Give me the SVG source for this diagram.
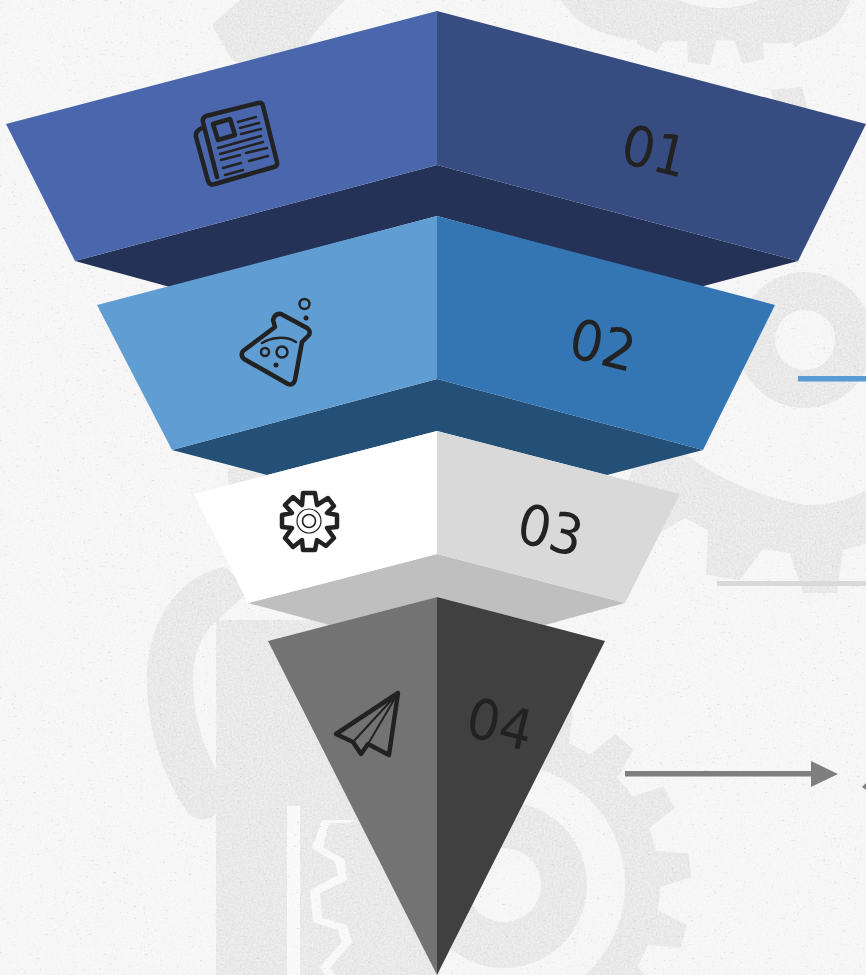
<svg xmlns="http://www.w3.org/2000/svg" width="866" height="975" viewBox="0 0 866 975">
<style>
.bg{fill:#e4e4e4}
.ic{fill:none;stroke:#222;stroke-width:4.500;stroke-linejoin:round;stroke-linecap:round}
.num{font-family:"DejaVu Sans",sans-serif;font-style:italic;font-size:50px;fill:#222}
.dot{fill:#222;stroke:none}
</style>
<defs>
<filter id="grain" x="0" y="0" width="100%" height="100%">
<feTurbulence type="fractalNoise" baseFrequency="0.5" numOctaves="3" seed="4"/>
<feColorMatrix type="matrix" values="0 0 0 0 1  0 0 0 0 1  0 0 0 0 1  1.6 0 0 0 -0.5"/>
</filter>
<filter id="grain2" x="0" y="0" width="100%" height="100%">
<feTurbulence type="fractalNoise" baseFrequency="0.35 0.5" numOctaves="2" seed="11"/>
<feColorMatrix type="matrix" values="0 0 0 0 0.35  0 0 0 0 0.35  0 0 0 0 0.35  6 0 0 0 -4.2"/>
</filter>
<path id="t1" class="bg" d="M150 -19L187 -12L187 12L150 19Z"/>
<path id="t2" class="bg" d="M125 -17L166 -11L166 11L125 17Z"/>
</defs>
<g id="background">
<rect width="866" height="975" fill="#f4f4f4"/>
<path class="bg" fill-rule="evenodd" d="M805 272a68 68 0 1 1-.1 0zM805 310a30 30 0 1 0 .1 0z"/>
<path class="bg" d="M633 467L655 452L687 455C720 480 760 497 805 505C830 505 850 500 866 490V544L843 550L837 593L803 593L790 553L763 549L740 580L706 575L708 530L685 518L660 533L620 500Z"/>
<rect class="bg" x="228" y="468" width="50" height="22"/>
<path class="bg" d="M240 0H345C318 25 300 50 285 85L260 70L232 60L212 25Z"/>
<path class="bg" fill-rule="evenodd" d="M560 0H850C830 60 770 40 719 40C680 40 620 50 578 20ZM678 0A109 109 0 0 0 760 0Z"/>
<g transform="translate(719 -101)">
<use href="#t2" transform="rotate(40)"/><use href="#t2" transform="rotate(59)"/><use href="#t2" transform="rotate(78)"/><use href="#t2" transform="rotate(97)"/><use href="#t2" transform="rotate(116)"/><use href="#t2" transform="rotate(135)"/><use href="#t2" transform="rotate(152)"/>
</g>
<path class="bg" d="M770 90L802 87L808 110L778 110Z"/>
<path class="bg" d="M216 620H440V975H216Z"/>
<path class="bg" d="M225 567C180 575 147 620 147 680C147 740 170 790 190 815C200 822 212 820 216 812V770C200 740 193 710 193 680C193 650 205 630 216 622L250 590Z"/>
<path class="bg" fill-rule="evenodd" d="M504 729a156 156 0 1 1-.1 0zM504 764a121 121 0 1 0 .1 0z"/>
<g transform="translate(504 885)">
<use href="#t1" transform="rotate(-94)"/><use href="#t1" transform="rotate(-72)"/><use href="#t1" transform="rotate(-50)"/><use href="#t1" transform="rotate(-28)"/><use href="#t1" transform="rotate(-6)"/><use href="#t1" transform="rotate(16)"/><use href="#t1" transform="rotate(38)"/><use href="#t1" transform="rotate(60)"/>
</g>
<path class="bg" fill-rule="evenodd" d="M504 802a83 83 0 1 1-.1 0zM504 848a37 37 0 1 0 .1 0z"/>
<path fill="#f7f7f7" d="M287 806H300V975H287ZM322 820H356L350 823H329L323 847L345 860L347 880L320 893L322 918L347 925L352 942L330 968L335 975H325L320 967L342 942L338 930L313 922L310 890L338 875L335 862L312 848Z"/>
<rect width="866" height="975" filter="url(#grain)" opacity=".6"/>
<rect width="866" height="975" filter="url(#grain2)" opacity=".3"/>
</g>
<g id="connectors">
<rect x="798" y="376" width="68" height="5.500" fill="#5b9bd5"/>
<rect x="717" y="581" width="149" height="5" fill="#d9d9d9"/>
<path d="M625 771H811V761L838 774L811 787V776.500H625Z" fill="#7f7f7f"/>
<path d="M866 783L862 787L866 790Z" fill="#7f7f7f"/>
</g>
<g id="node-01">
<path fill="#243257" d="M75 261L437 165L798 261L700 287L437 216L170 287Z"/>
<path fill="#4a66ac" d="M437 11L6 124L75 261L437 165Z"/>
<path fill="#374c80" d="M437 11L866 124L798 261L437 165Z"/>
<g class="ic">
<path d="M217 177L203 122Q202 118 206 116L258 103Q262 102 263 106L277 162Q278 166 274 167L215 184Q210 186 208 181L196 137Q195 131 202 128"/>
<path d="M213 124L230 119L235 135L218 140Z"/>
<path style="stroke-width:2.500" d="M238 122L256 117M240 128L259 123M241 134L261 129M218 148L261 136M220 154L263 142M221 160L240 155M246 153L267 148M223 168L241 163M249 161L268 156M225 175L243 170"/>
</g>
<text class="num" transform="matrix(1 .25 -.06 1.130 622 163)">01</text>
</g>
<g id="node-02">
<path fill="#245078" d="M172 450L437 379L703 450L607 475L437 431L267 475Z"/>
<path fill="#5f9dd2" d="M437 216L97 305L172 450L437 379Z"/>
<path fill="#3476b4" d="M437 216L775 305L703 450L437 379Z"/>
<g class="ic">
<path d="M275 327L273 320Q275 313 281 314L307 328Q311 331 309 335L302 342L295 380Q293 386 288 384L244 359Q240 355 243 351Z"/>
<path style="stroke-width:2.500" d="M262 343C270 338 285 335 296 342"/>
<circle style="stroke-width:2.500" cx="265" cy="352" r="4"/>
<circle style="stroke-width:2.500" cx="282" cy="352" r="5.500"/>
<circle style="stroke-width:2.500" cx="304.500" cy="304" r="5"/>
<circle class="dot" cx="276" cy="365" r="2.500"/>
<circle class="dot" cx="306" cy="318" r="2.500"/>
</g>
<text class="num" transform="matrix(1 .25 -.06 1.130 570 357)">02</text>
</g>
<g id="node-03">
<path fill="#bfbfbf" d="M248 603L437 554L625 603L545 625L437 597L330 625Z"/>
<path fill="#fff" d="M437 431L194 494L248 603L437 554Z"/>
<path fill="#d9d9d9" d="M437 431L680 494L625 603L437 554Z"/>
<g class="ic">
<path d="M303 493L315 493L317 505L328 498L334 506L327 513L337 515L337 527L327 528L334 538L326 546L317 540L315 550L303 550L302 540L293 547L285 538L292 528L282 527L282 515L292 513L285 505L293 497L302 505Z"/>
<circle style="stroke-width:1.200" cx="309" cy="521" r="12"/>
<circle style="stroke-width:1.600" cx="309" cy="521" r="6.500"/>
</g>
<text class="num" transform="matrix(1 .25 -.06 1.130 518 542)">03</text>
</g>
<g id="node-04">
<path fill="#737373" d="M437 597L268 641L437 975Z"/>
<path fill="#404040" d="M437 597L605 641L437 975Z"/>
<g class="ic">
<path d="M398 693L336 734L353 742L361 754L368 744L389 755Z"/>
<path style="stroke-width:2" d="M398 693L353 742M398 693L368 744"/>
</g>
<text class="num" transform="matrix(1 .25 -.06 1.130 467 736)">04</text>
</g>
</svg>
